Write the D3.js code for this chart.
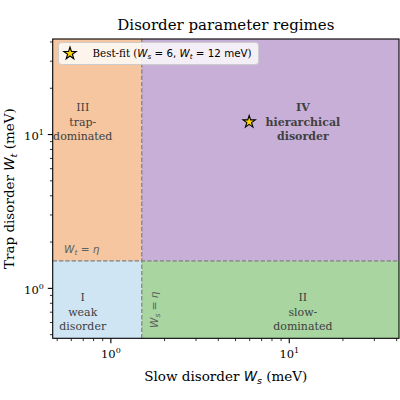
<!DOCTYPE html>
<html><head><meta charset="utf-8">
<script src="https://cdn.jsdelivr.net/npm/d3@7"></script>
<style>body{margin:0;background:#fff}svg{display:block}</style>
</head><body><svg id="c" width="400" height="400"></svg>
<script>
// ---- data ----
const xDomain = [0.475, 41.5];
const yDomain = [0.47, 41.5];
const eta = 1.5;
const regionNames = ["I", "II", "III", "IV"];
const regionDesc = [["weak", "disorder"], ["slow-", "dominated"], ["trap-", "dominated"], ["hierarchical", "disorder"]];
const regionWs = [[0.475, 1.5], [1.5, 41.5], [0.475, 1.5], [1.5, 41.5]];
const regionWt = [[0.47, 1.5], [0.47, 1.5], [1.5, 41.5], [1.5, 41.5]];
const regionColors = ["#d0e5f4", "#a9d5a1", "#f5c6a0", "#c8afd8"];
const regionBold = [false, false, false, true];
const labelWs = [0.7, 12, 0.7, 12];
const labelWt = [0.7, 0.7, 12, 12];
const bestFit = [6, 12];
const majorTicks = [1, 10];
const minorTicks = [0.5,0.6,0.7,0.8,0.9,2,3,4,5,6,7,8,9,20,30,40];

// ---- layout ----
const L = 52.7, R = 399, T = 39, B = 338.3;
const svg = d3.select("#c");
svg.append("rect").attr("width",400).attr("height",400).attr("fill","#fff");
const x = d3.scaleLog().domain(xDomain).range([L, R]);
const y = d3.scaleLog().domain(yDomain).range([B, T]);
const serif = "'DejaVu Serif', serif";
const sans = "'DejaVu Sans', sans-serif";

// regions
regionNames.forEach((n, i) => {
  svg.append("rect")
    .attr("x", x(regionWs[i][0])).attr("width", x(regionWs[i][1]) - x(regionWs[i][0]))
    .attr("y", y(regionWt[i][1])).attr("height", y(regionWt[i][0]) - y(regionWt[i][1]))
    .attr("fill", regionColors[i]);
});

// dashed boundaries
svg.append("line").attr("x1", x(eta)).attr("x2", x(eta)).attr("y1", y(yDomain[0])).attr("y2", y(yDomain[1]))
  .attr("stroke", "#7f7f7f").attr("stroke-width", 1.2).attr("stroke-dasharray", "4.4,1.9");
svg.append("line").attr("y1", y(eta)).attr("y2", y(eta)).attr("x1", x(xDomain[0])).attr("x2", x(xDomain[1]))
  .attr("stroke", "#7f7f7f").attr("stroke-width", 1.2).attr("stroke-dasharray", "4.4,1.9");

// region labels
regionNames.forEach((n, i) => {
  const lines = [n].concat(regionDesc[i]);
  const t = svg.append("text").attr("text-anchor", "middle")
    .attr("font-family", serif).attr("font-size", 11)
    .attr("font-weight", regionBold[i] ? "bold" : "normal")
    .attr("fill", "#404040");
  lines.forEach((s, k) => {
    t.append("tspan").attr("x", x(labelWs[i])).attr("y", y(labelWt[i]) + (k - 1) * 14.5 + 4).text(s);
  });
});

// boundary annotations
const a1 = svg.append("text").attr("x", 64).attr("y", 253).attr("font-family", sans)
  .attr("font-size", 10.5).attr("fill", "#606060");
a1.append("tspan").attr("font-style", "italic").text("W");
a1.append("tspan").attr("font-style", "italic").attr("font-size", 7.5).attr("dy", 2).text("t");
a1.append("tspan").attr("dy", -2).text(" = ");
a1.append("tspan").attr("font-style", "italic").text("η");

const a2 = svg.append("text").attr("transform", `translate(${x(eta) + 16},328) rotate(-90)`)
  .attr("font-family", sans).attr("font-size", 10.5).attr("fill", "#606060");
a2.append("tspan").attr("font-style", "italic").text("W");
a2.append("tspan").attr("font-style", "italic").attr("font-size", 7.5).attr("dy", 2).text("s");
a2.append("tspan").attr("dy", -2).text(" = ");
a2.append("tspan").attr("font-style", "italic").text("η");

// best fit star
const star = d3.symbol().type(d3.symbolStar).size(47);
svg.append("path").attr("d", star()).attr("transform", `translate(${x(bestFit[0])},${y(bestFit[1])})`)
  .attr("fill", "#ffd700").attr("stroke", "#000").attr("stroke-width", 1.1).attr("stroke-linejoin", "miter");

// axes
const axisG = svg.append("g");
function fmtTicks(g) {
  g.selectAll(".tick text").each(function(d) {
    const t = d3.select(this).text("");
    t.attr("font-family", serif).attr("font-size", 11.5).attr("fill", "#000");
    t.append("tspan").text("10");
    t.append("tspan").attr("font-size", 8).attr("dy", -5).text(Math.round(Math.log10(d)));
  });
}
const xMinor = axisG.append("g").attr("transform", `translate(0,${B})`)
  .call(d3.axisBottom(x).tickValues(minorTicks).tickSize(2.8).tickFormat(""));
const xMajor = axisG.append("g").attr("transform", `translate(0,${B})`)
  .call(d3.axisBottom(x).tickValues(majorTicks).tickSize(4.9).tickPadding(4).tickFormat(d => d));
xMajor.selectAll(".tick text").attr("dy", "0.9em");
fmtTicks(xMajor);
const yMinor = axisG.append("g").attr("transform", `translate(${L},0)`)
  .call(d3.axisLeft(y).tickValues(minorTicks).tickSize(2.8).tickFormat(""));
const yMajor = axisG.append("g").attr("transform", `translate(${L},0)`)
  .call(d3.axisLeft(y).tickValues(majorTicks).tickSize(4.9).tickPadding(4).tickFormat(d => d));
fmtTicks(yMajor);
yMajor.selectAll(".tick text").attr("dy", "0.45em");
axisG.selectAll(".domain").remove();
axisG.selectAll(".tick line").attr("stroke", "#000");
xMinor.selectAll(".tick line").attr("stroke-width", 0.8);
yMinor.selectAll(".tick line").attr("stroke-width", 0.8);
xMajor.selectAll(".tick line").attr("stroke-width", 1.1);
yMajor.selectAll(".tick line").attr("stroke-width", 1.1);

// spines
svg.append("rect").attr("x", L).attr("y", T).attr("width", R - L).attr("height", B - T)
  .attr("fill", "none").attr("stroke", "#000").attr("stroke-width", 1.1);

// legend
svg.append("rect").attr("x", 58.5).attr("y", 42.5).attr("width", 200).attr("height", 22).attr("rx", 3)
  .attr("fill", "#fff").attr("fill-opacity", 0.8).attr("stroke", "#cccccc").attr("stroke-width", 1);
svg.append("path").attr("d", star()).attr("transform", `translate(70,53.5)`)
  .attr("fill", "#ffd700").attr("stroke", "#000").attr("stroke-width", 1.1);
const lg = svg.append("text").attr("x", 92.5).attr("y", 57).attr("font-family", serif).attr("font-size", 10.3).attr("fill", "#000");
lg.append("tspan").text("Best-fit (");
lg.append("tspan").attr("font-family", sans).attr("font-style", "italic").text("W");
lg.append("tspan").attr("font-family", sans).attr("font-style", "italic").attr("font-size", 7.2).attr("dy", 2).text("s");
lg.append("tspan").attr("font-family", sans).attr("dy", -2).text(" = 6, ");
lg.append("tspan").attr("font-family", sans).attr("font-style", "italic").text("W");
lg.append("tspan").attr("font-family", sans).attr("font-style", "italic").attr("font-size", 7.2).attr("dy", 2).text("t");
lg.append("tspan").attr("font-family", sans).attr("dy", -2).text(" = 12 meV");
lg.append("tspan").text(")");

// title
svg.append("text").attr("x", (L + R) / 2).attr("y", 29.5).attr("text-anchor", "middle")
  .attr("font-family", serif).attr("font-size", 15).attr("fill", "#000").text("Disorder parameter regimes");

// axis labels
const xl = svg.append("text").attr("x", (L + R) / 2).attr("y", 381).attr("text-anchor", "middle")
  .attr("font-family", serif).attr("font-size", 13.5).attr("fill", "#000");
xl.append("tspan").text("Slow disorder ");
xl.append("tspan").attr("font-family", sans).attr("font-style", "italic").text("W");
xl.append("tspan").attr("font-family", sans).attr("font-style", "italic").attr("font-size", 9.5).attr("dy", 2.5).text("s");
xl.append("tspan").attr("dy", -2.5).text(" (meV)");

const yl = svg.append("text").attr("transform", `translate(14,${(T + B) / 2}) rotate(-90)`).attr("text-anchor", "middle")
  .attr("font-family", serif).attr("font-size", 13.5).attr("fill", "#000");
yl.append("tspan").text("Trap disorder ");
yl.append("tspan").attr("font-family", sans).attr("font-style", "italic").text("W");
yl.append("tspan").attr("font-family", sans).attr("font-style", "italic").attr("font-size", 9.5).attr("dy", 2.5).text("t");
yl.append("tspan").attr("dy", -2.5).text(" (meV)");
</script></body></html>
